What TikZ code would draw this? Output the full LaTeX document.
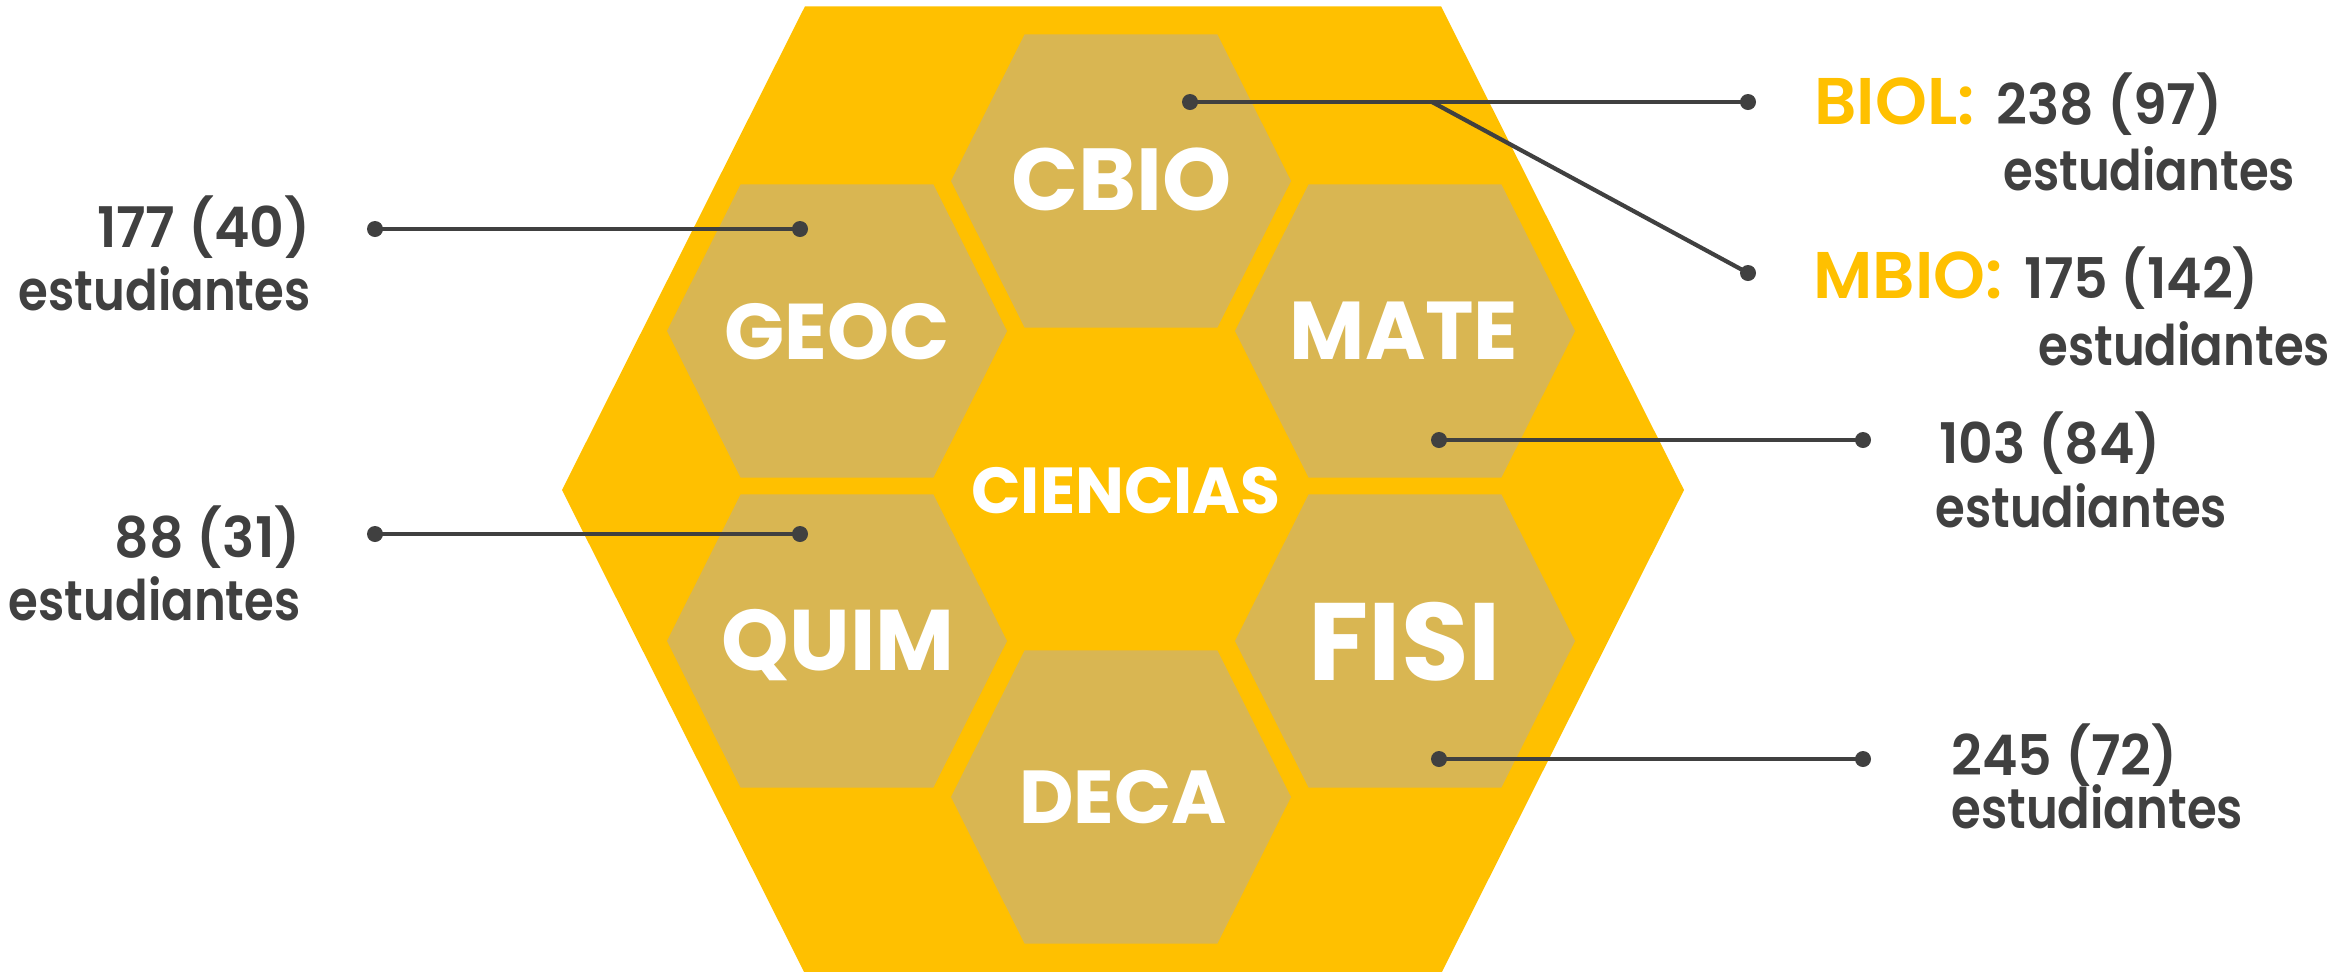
\documentclass[tikz,border=0pt]{standalone}
\usepackage{fontspec}
\setmainfont{Poppins}
\newfontfamily\labelfont{Poppins SemiBold}[FakeStretch=0.96]
\newfontfamily\wordfont{Poppins SemiBold}[FakeStretch=0.86]
\newfontfamily\deptfont{Poppins SemiBold}[FakeStretch=1.0]
\definecolor{hexyellow}{HTML}{FFC000}
\definecolor{hexgold}{HTML}{D9B652}
\definecolor{txtgray}{HTML}{404040}
\newcommand\hexcell[4]{%
  \fill[#1] ({#2-#4},#3) -- ({#2-0.567*#4},{#3-0.862*#4}) -- ({#2+0.567*#4},{#3-0.862*#4})
   -- ({#2+#4},#3) -- ({#2+0.567*#4},{#3+0.862*#4}) -- ({#2-0.567*#4},{#3+0.862*#4}) -- cycle;}
\begin{document}
\begin{tikzpicture}[x=0.5pt,y=-0.5pt,
  bighex/.style={fill=hexyellow},
  cellhex/.style={fill=hexgold},
  cell/.style={text=white,font=\bfseries\fontsize{41pt}{41pt}\selectfont,inner sep=0pt,anchor=base},
  count/.style={text=txtgray,font=\labelfont\fontsize{28pt}{28pt}\selectfont,inner sep=0pt},
  word/.style={text=txtgray,font=\wordfont\fontsize{28pt}{28pt}\selectfont,inner sep=0pt},
  dot/.style={circle,fill=txtgray,inner sep=0pt,minimum size=8pt},
  conn/.style={draw=txtgray,line width=2.1pt}]
\useasboundingbox (0,0) rectangle (2351,971);
% hexagons
\hexcell{bighex}{1123}{490}{561}
\hexcell{cellhex}{1121}{181}{170}
\hexcell{cellhex}{837}{331}{170}
\hexcell{cellhex}{1405}{331}{170}
\hexcell{cellhex}{837}{641}{170}
\hexcell{cellhex}{1405}{641}{170}
\hexcell{cellhex}{1121}{797}{170}
% cell labels
\node[cell,font=\bfseries\fontsize{44pt}{44pt}\selectfont] (cbio) at (1122,210) {CBIO};
\node[cell,font=\bfseries\fontsize{39.5pt}{39.5pt}\selectfont] (geoc) at (837,359) {GEOC};
\node[cell] (mate) at (1404,359) {MATE};
\node[cell,font=\bfseries\fontsize{32.5pt}{32.5pt}\selectfont] (ciencias) at (1126,513) {CIENCIAS};
\node[cell,font=\bfseries\fontsize{43pt}{43pt}\selectfont] (quim) at (838,670) {QUIM};
\node[cell,font=\bfseries\fontsize{55pt}{55pt}\selectfont] (fisi) at (1405,680) {FISI};
\node[cell,font=\bfseries\fontsize{37.5pt}{37.5pt}\selectfont] (deca) at (1123,823) {DECA};
% left labels
\node[count,anchor=base east] (geocn) at (311,247) {177 (40)};
\node[word,anchor=base east] (geocs) at (311,310) {estudiantes};
\node[count,anchor=base east] (quimn) at (301,557) {88 (31)};
\node[word,anchor=base east] (quims) at (301,620) {estudiantes};
% right labels
\node[count,anchor=base west] (biol) at (1814,124) {{\color{hexyellow}\deptfont\fontsize{33pt}{33pt}\selectfont BIOL:}\hspace{11pt}238 (97)};
\node[word,anchor=base west] (biols) at (2003,190) {estudiantes};
\node[count,anchor=base west] (mbio) at (1813,298) {{\color{hexyellow}\deptfont\fontsize{33pt}{33pt}\selectfont MBIO:}\hspace{11pt}175 (142)};
\node[word,anchor=base west] (mbios) at (2038,365) {estudiantes};
\node[count,anchor=base west] (maten) at (1939,463) {103 (84)};
\node[word,anchor=base west] (mates) at (1935,527) {estudiantes};
\node[count,anchor=base west] (fisin) at (1951,775) {245 (72)};
\node[word,anchor=base west] (fisis) at (1951,828) {estudiantes};
% dots
\node[dot] (dcbio) at (1190,102) {};
\node[dot] (dbiol) at (1748,102) {};
\node[dot] (dmbio) at (1748,273) {};
\coordinate (branch) at (1432,102);
\node[dot] (dgeoc) at (800,229) {};
\node[dot] (lgeoc) at (375,229) {};
\node[dot] (dquim) at (800,534) {};
\node[dot] (lquim) at (375,534) {};
\node[dot] (dmate) at (1439,440) {};
\node[dot] (rmate) at (1863,440) {};
\node[dot] (dfisi) at (1439,759) {};
\node[dot] (rfisi) at (1863,759) {};
% connectors
\draw[conn] (dcbio.center) -- (dbiol.center);
\draw[conn] (branch) -- (dmbio.center);
\draw[conn] (lgeoc.center) -- (dgeoc.center);
\draw[conn] (lquim.center) -- (dquim.center);
\draw[conn] (dmate.center) -- (rmate.center);
\draw[conn] (dfisi.center) -- (rfisi.center);
\end{tikzpicture}
\end{document}
